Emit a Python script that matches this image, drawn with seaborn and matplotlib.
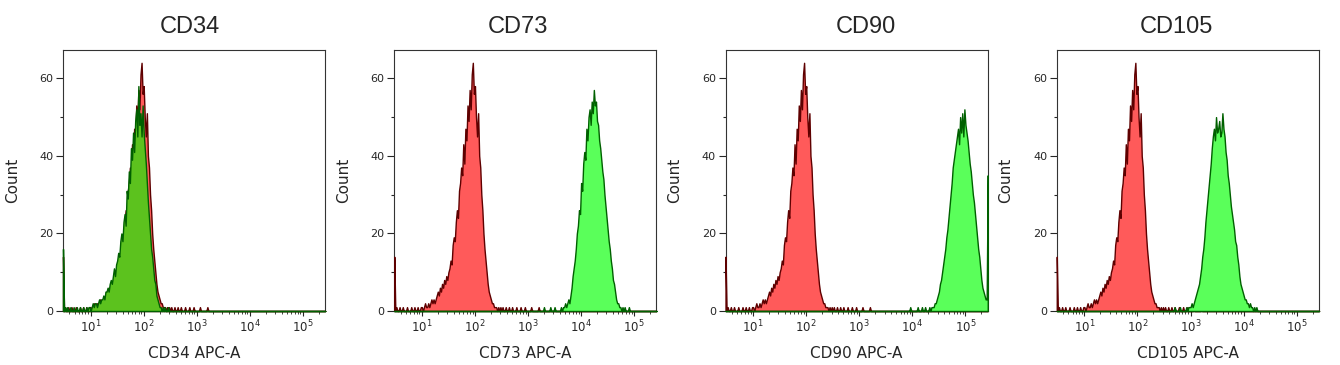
import numpy as np
import matplotlib
matplotlib.use("Agg")
import matplotlib.pyplot as plt
import seaborn as sns
from matplotlib.ticker import MultipleLocator, LogLocator

# histogram channels: log10 units, 0.02 decade bins, edges 0.47 .. 5.43
bin_lo, bin_hi, bin_w = 0.47, 5.43, 0.02

markers = ["CD34", "CD73", "CD90", "CD105"]
x_labels = ["CD34 APC-A", "CD73 APC-A", "CD90 APC-A", "CD105 APC-A"]

# isotype control (red) - same tube shown in every panel
# counts start at bin centre 0.90 and step 0.02
iso_start = 0.90
iso_counts = [0, 1, 0, 0, 1, 1, 0, 1, 2, 1,
              1, 2, 1, 2, 3, 2, 3, 2, 3, 4,
              5, 4, 6, 5, 7, 6, 8, 7, 9, 8,
              10, 11, 13, 12, 17, 19, 18, 23, 26, 24,
              31, 33, 37, 35, 43, 38, 47, 44, 53, 49,
              57, 52, 61, 64, 56, 58, 50, 45, 51, 40,
              37, 30, 26, 20, 16, 13, 10, 7, 5, 4,
              3, 2, 2, 1, 1, 1, 0, 1, 0, 1]
iso_sparse = [0.52, 0.58, 0.64, 0.72, 0.80, 0.86, 2.52, 2.58, 2.64,
              2.70, 2.78, 2.86, 2.94, 3.06, 3.20]
iso_low_pile = 14

# stained samples (green)
cd34_start = 0.90
cd34_counts = [0, 1, 0, 1, 1, 0, 1, 2, 1, 2,
               2, 1, 2, 3, 2, 3, 3, 4, 3, 5,
               5, 6, 5, 7, 8, 7, 9, 11, 9, 12,
               13, 15, 14, 18, 20, 18, 23, 25, 22, 31,
               29, 36, 33, 42, 39, 46, 41, 49, 52, 45,
               58, 48, 51, 45, 53, 46, 42, 38, 33, 28,
               24, 20, 16, 14, 11, 8, 7, 4, 3, 2,
               1, 1, 0, 1]
cd34_sparse = [0.52, 0.56, 0.62, 0.68, 0.74, 0.80, 0.86, 2.40, 2.46]
cd34_low_pile = 16

cd73_start = 3.60
cd73_counts = [0, 1, 0, 1, 1, 2, 1, 2, 3, 2,
               4, 6, 9, 11, 13, 16, 20, 22, 26, 25,
               33, 31, 38, 41, 39, 47, 44, 50, 52, 48,
               54, 51, 57, 53, 54, 49, 48, 44, 42, 39,
               36, 34, 30, 27, 24, 21, 18, 16, 13, 11,
               8, 7, 5, 3, 2, 2, 1, 1, 0, 1, 0, 1]
cd73_sparse = [3.30, 3.42, 3.50, 4.90]

cd90_start = 4.30
cd90_counts = [0, 1, 0, 1, 1, 1, 2, 2, 3, 4,
               5, 7, 8, 10, 12, 14, 16, 19, 21, 24,
               27, 30, 33, 37, 39, 41, 43, 45, 47, 43,
               50, 46, 51, 45, 52, 48, 46, 44, 41, 38,
               36, 33, 30, 28, 25, 22, 19, 16, 14, 11,
               8, 6, 5, 4, 3, 3]
cd90_sparse = [3.96, 4.10, 4.18, 4.24]
cd90_high_pile = 35

cd105_start = 2.90
cd105_counts = [0, 1, 0, 1, 1, 1, 2, 1, 2, 3,
                4, 5, 6, 7, 9, 11, 14, 16, 19, 23,
                26, 29, 32, 35, 38, 42, 45, 47, 44, 50,
                46, 47, 49, 45, 46, 51, 47, 45, 41, 39,
                35, 33, 30, 27, 25, 23, 21, 18, 17, 14,
                12, 9, 7, 6, 5, 4, 3, 3, 2, 2,
                1, 2, 1, 1, 0, 1, 0, 1]
cd105_sparse = [2.70, 2.80]


def channel_counts(start, counts, sparse=(), low_pile=0, high_pile=0):
    n = int(round((bin_hi - bin_lo) / bin_w))
    centers = bin_lo + bin_w * (np.arange(n) + 0.5)
    w = np.zeros(n)
    i0 = int(round((start - centers[0]) / bin_w))
    w[i0:i0 + len(counts)] += counts
    for s in sparse:
        w[int(round((s - centers[0]) / bin_w))] += 1
    w[0] += low_pile
    w[-1] += high_pile
    return 10 ** centers, w


iso = channel_counts(iso_start, iso_counts, iso_sparse, low_pile=iso_low_pile)
stained = [
    channel_counts(cd34_start, cd34_counts, cd34_sparse, low_pile=cd34_low_pile),
    channel_counts(cd73_start, cd73_counts, cd73_sparse),
    channel_counts(cd90_start, cd90_counts, cd90_sparse, high_pile=cd90_high_pile),
    channel_counts(cd105_start, cd105_counts, cd105_sparse),
]

red_fill, red_edge = "#FF5A5A", "#5E0000"
green_fill, green_edge = "#5AFF5A", "#006000"
cd34_fill = "#5CC21E"
title_x = [0.485, 0.47, 0.534, 0.456]

sns.set_style("ticks")
plt.rcParams["font.family"] = ["DejaVu Sans"]

fig, axes = plt.subplots(1, 4, figsize=(13.4, 3.65), dpi=100)
fig.subplots_adjust(left=63 / 1340, right=1319 / 1340, bottom=54 / 365,
                    top=315 / 365, wspace=69 / 262)

for i, ax in enumerate(axes):
    x, w = iso
    sns.histplot(x=x, weights=w, binwidth=bin_w, binrange=(bin_lo, bin_hi),
                 log_scale=True, element="poly", fill=True,
                 facecolor=red_fill, edgecolor=red_edge, linewidth=1.0,
                 zorder=3, clip_on=False, ax=ax)
    x, w = stained[i]
    sns.histplot(x=x, weights=w, binwidth=bin_w, binrange=(bin_lo, bin_hi),
                 log_scale=True, element="poly", fill=True,
                 facecolor=cd34_fill if i == 0 else green_fill,
                 edgecolor=green_edge, linewidth=1.0, zorder=4,
                 clip_on=False, ax=ax)

    ax.set_xlim(10 ** 0.48, 10 ** 5.42)
    ax.set_ylim(0, 67.3)
    ax.yaxis.set_major_locator(MultipleLocator(20))
    ax.yaxis.set_minor_locator(MultipleLocator(10))
    ax.xaxis.set_major_locator(LogLocator(base=10, numticks=10))
    ax.xaxis.set_minor_locator(LogLocator(base=10, subs=np.arange(2, 10), numticks=20))

    ax.tick_params(axis="y", which="major", length=5, width=0.8, labelsize=8, pad=2)
    ax.tick_params(axis="y", which="minor", length=2.5, width=0.8)
    ax.tick_params(axis="x", which="major", length=3.5, width=0.8, labelsize=8.5, pad=2)
    ax.tick_params(axis="x", which="minor", length=2, width=0.6)
    for sp in ax.spines.values():
        sp.set_visible(True)
        sp.set_color("#333333")
        sp.set_linewidth(0.8)

    ax.set_ylabel("Count", fontsize=11, labelpad=14)
    ax.set_xlabel(x_labels[i], fontsize=11, labelpad=8)
    ax.set_title(markers[i], fontsize=17, fontfamily="Liberation Sans",
                 pad=12, x=title_x[i])

fig.savefig("out.png", dpi=100, facecolor="white")
